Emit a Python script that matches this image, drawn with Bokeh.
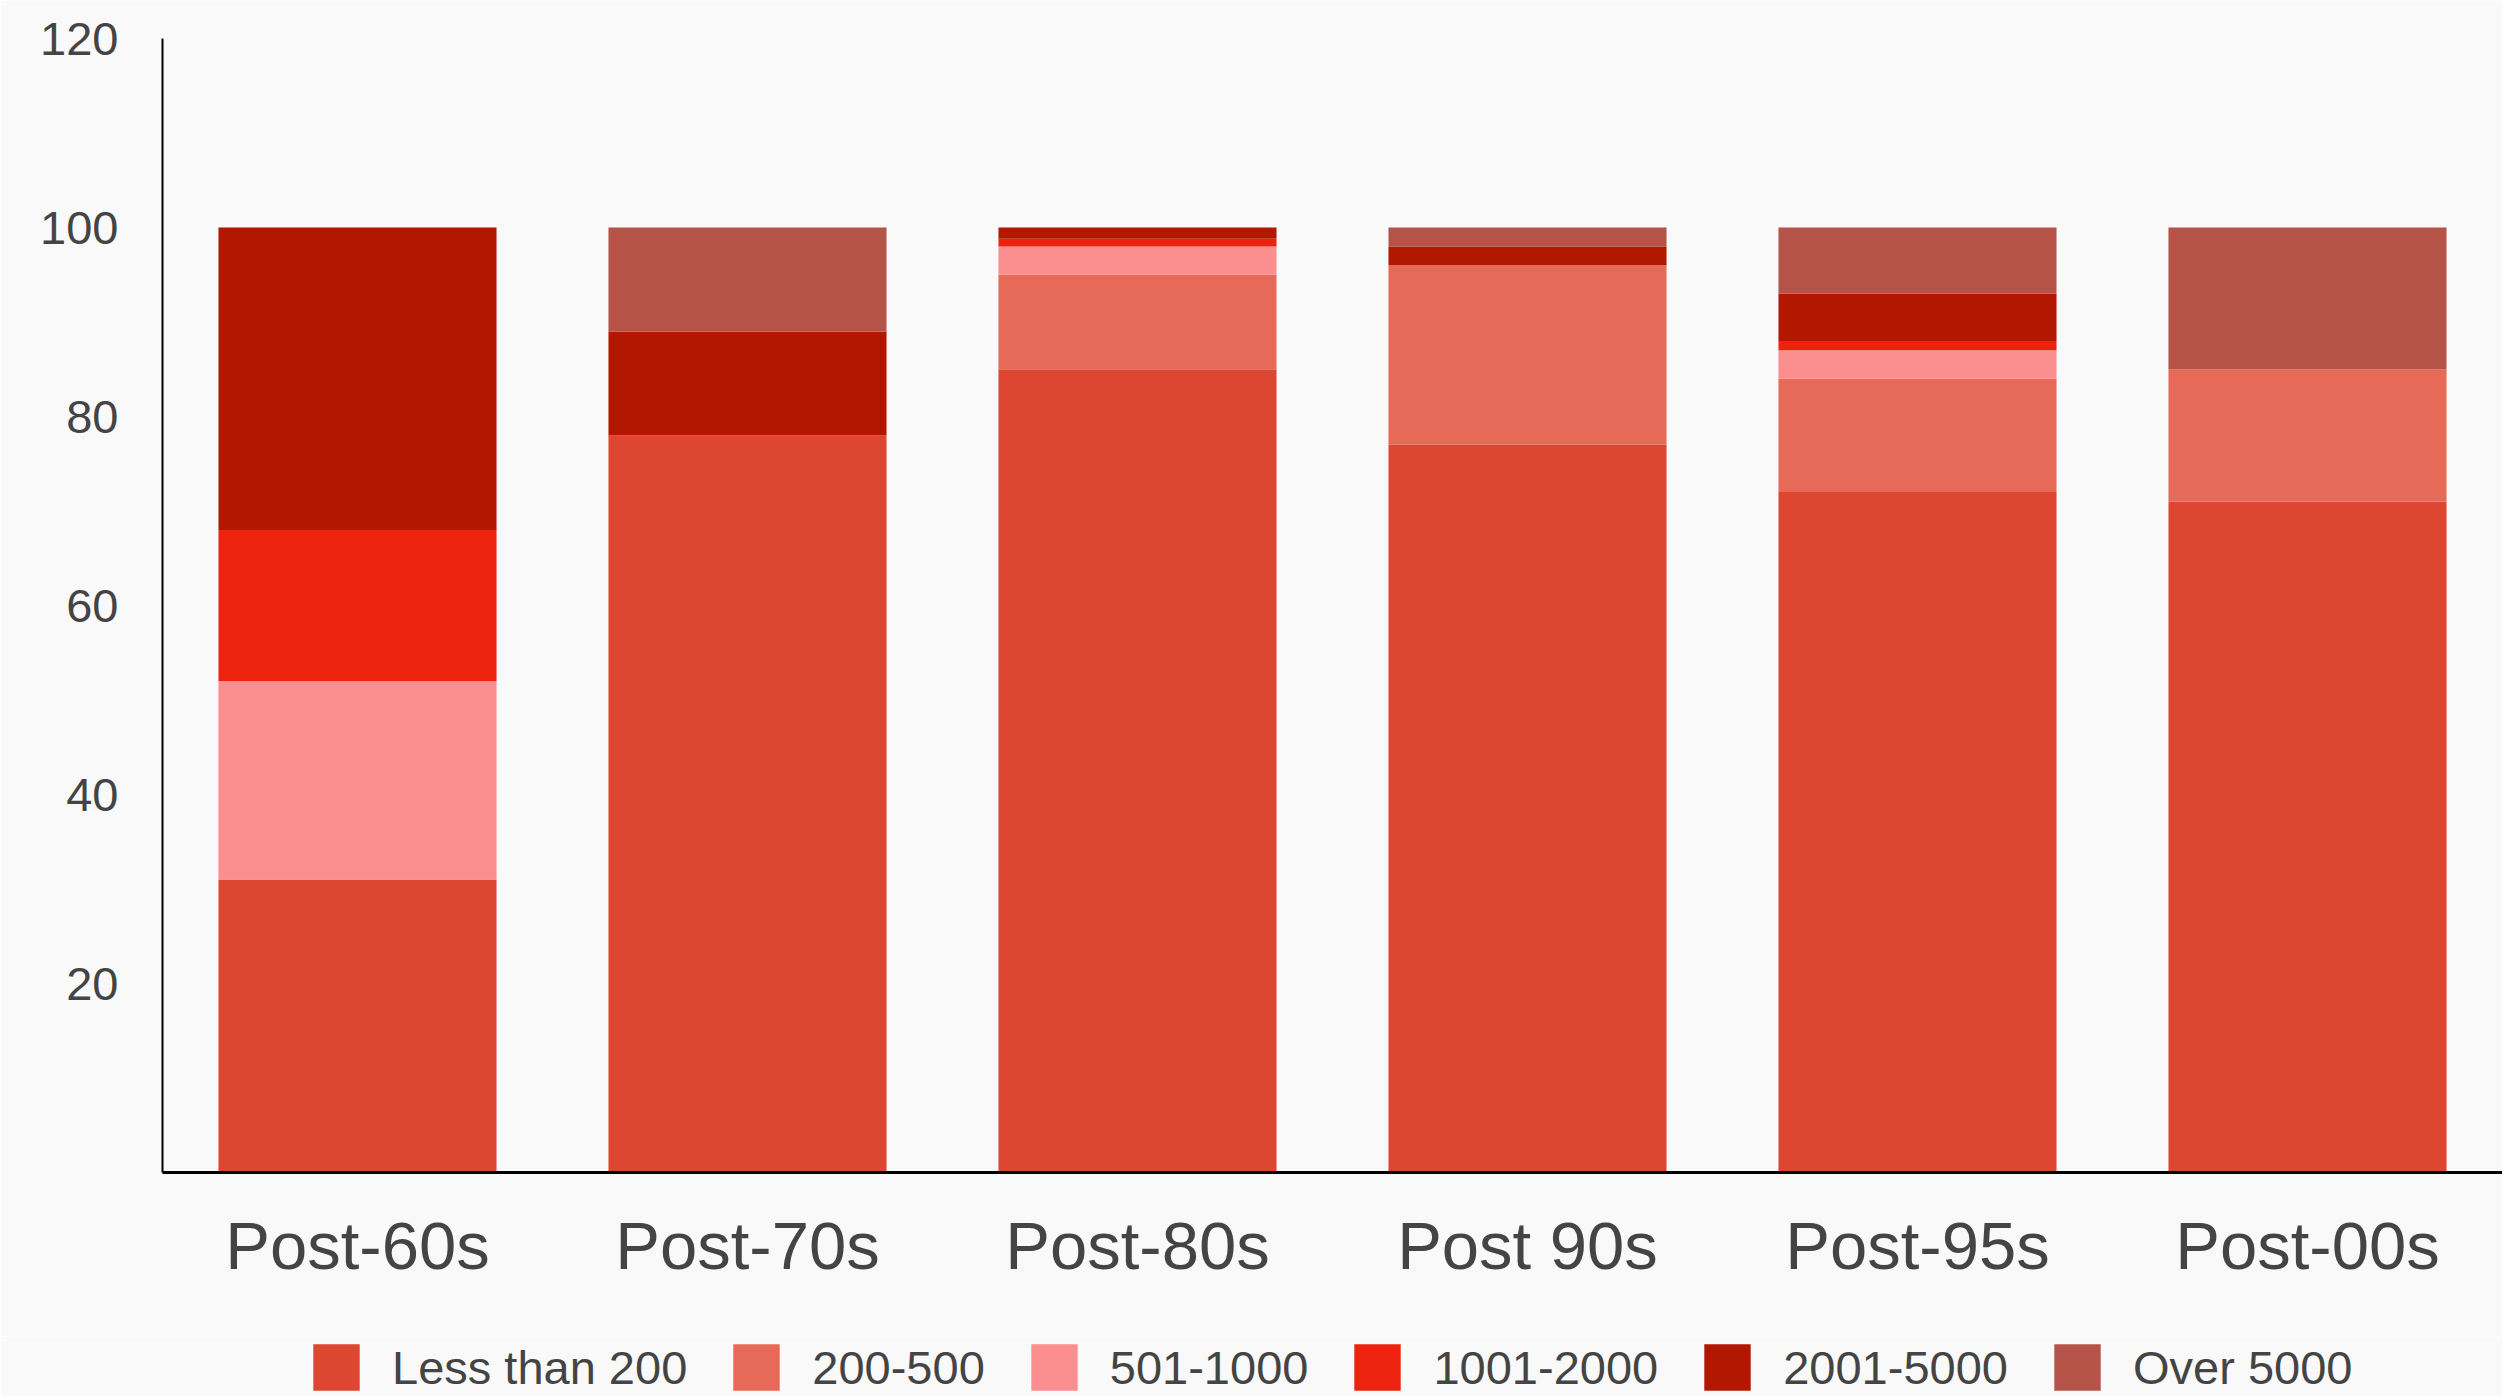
from bokeh.plotting import figure
from bokeh.models import FactorRange, Legend, FixedTicker
from bokeh.layouts import column
from bokeh.embed import file_html
from bokeh.resources import INLINE

categories = ["Post-60s", "Post-70s", "Post-80s", "Post 90s", "Post-95s", "Post-00s"]
series_names = ["Less than 200", "200-500", "501-1000", "1001-2000", "2001-5000", "Over 5000"]

less_than_200 = [31, 78, 85, 77, 72, 71]
s200_500 = [0, 0, 10, 19, 12, 14]
s501_1000 = [21, 0, 3, 0, 3, 0]
s1001_2000 = [16, 0, 0.8, 0, 1, 0]
s2001_5000 = [32, 11, 1.2, 2, 5, 0]
over_5000 = [0, 11, 0, 2, 7, 15]

y_ticks = [20, 40, 60, 80, 100, 120]

colors = ["#DD4631", "#E76958", "#FB8E8E", "#EE230F", "#B21700", "#B55348"]
keys = ["lt200", "s200", "s501", "s1001", "s2001", "over"]

data = {
    "cat": categories,
    "lt200": less_than_200,
    "s200": s200_500,
    "s501": s501_1000,
    "s1001": s1001_2000,
    "s2001": s2001_5000,
    "over": over_5000,
}

BG = "#F9F9F9"
TXT = "#444444"
FONT = "Liberation Sans"
W = 2502

p = figure(
    x_range=FactorRange(*categories, range_padding=0),
    y_range=(0, 120),
    width=W,
    height=1336,
    output_backend="svg",
    toolbar_location=None,
    min_border_left=162,
    min_border_top=38,
    min_border_right=0,
    min_border_bottom=164,
)

renderers = p.vbar_stack(keys, x="cat", width=0.713, color=colors, source=data, line_width=0)

p.background_fill_color = BG
p.border_fill_color = BG
p.outline_line_color = None
p.xgrid.grid_line_color = None
p.ygrid.grid_line_color = None

p.yaxis.ticker = FixedTicker(ticks=y_ticks)
p.yaxis.major_tick_line_color = None
p.yaxis.minor_tick_line_color = None
p.yaxis.axis_line_color = "black"
p.yaxis.axis_line_width = 2
p.yaxis.major_label_text_font = FONT
p.yaxis.major_label_text_font_size = "47px"
p.yaxis.major_label_text_color = TXT
p.yaxis.major_label_standoff = 38

p.xaxis.major_tick_line_color = None
p.xaxis.minor_tick_line_color = None
p.xaxis.axis_line_color = "black"
p.xaxis.axis_line_width = 3
p.xaxis.major_label_text_font = FONT
p.xaxis.major_label_text_font_size = "67px"
p.xaxis.major_label_text_color = TXT
p.xaxis.major_label_standoff = 29

# legend strip below the chart (its frame is aligned with the main frame by the column layout)
lg = figure(
    width=W,
    height=60,
    x_range=(0, 1),
    y_range=(0, 1),
    output_backend="svg",
    toolbar_location=None,
    x_axis_location=None,
    y_axis_location=None,
    min_border=0,
)
lg.background_fill_color = BG
lg.border_fill_color = BG
lg.outline_line_color = None
lg.xgrid.grid_line_color = None
lg.ygrid.grid_line_color = None

# zero-size proxy glyphs, only used to draw the legend swatches
proxies = [lg.vbar(x=[0], top=[0], bottom=[0], width=0, color=c, line_width=0) for c in colors]

legend = Legend(
    items=[(name, [r]) for name, r in zip(series_names, proxies)],
    orientation="horizontal",
    location=(145, 0),
    label_text_font=FONT,
    label_text_font_size="47px",
    label_text_color=TXT,
    glyph_width=58,
    glyph_height=58,
    label_height=58,
    label_standoff=27,
    spacing=40,
    padding=0,
    margin=0,
    background_fill_alpha=0,
    border_line_alpha=0,
)
lg.add_layout(legend, "center")

layout = column(p, lg, spacing=0)
open("out.html", "w").write(file_html(layout, INLINE))
